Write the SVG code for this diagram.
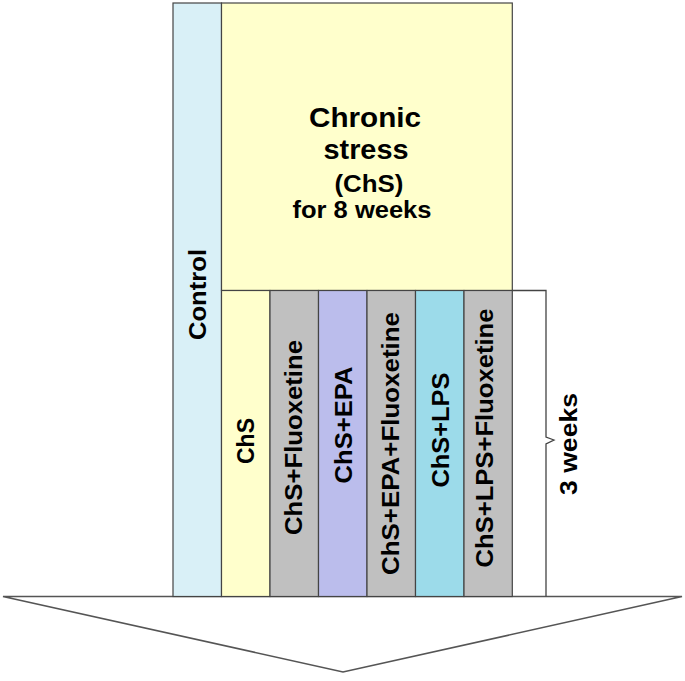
<svg xmlns="http://www.w3.org/2000/svg" width="685" height="681" viewBox="0 0 685 681">
<style>
.box{stroke:#444;stroke-width:1.2}
.t{font-family:"Liberation Sans",Arial,sans-serif;font-weight:bold;fill:#000}
.v{font-size:23px;text-anchor:middle}
.line{fill:none;stroke:#444;stroke-width:1.3}
</style>
<rect width="685" height="681" fill="#fff"/>
<g id="arrow">
<polygon points="3,596.5 682,596.5 343,672" fill="#fff" stroke="#555" stroke-width="1.6"/>
</g>
<g id="control">
<rect class="box" x="173" y="3" width="48.5" height="593.5" fill="#D9F0F7"/>
<text class="t v" transform="translate(206,294.5) rotate(-90)" textLength="91" lengthAdjust="spacingAndGlyphs">Control</text>
</g>
<g id="chronic">
<rect class="box" x="221.5" y="3" width="290.8" height="287.5" fill="#FFFFCC"/>
<text class="t" text-anchor="middle" font-size="28" x="365" y="127" textLength="112" lengthAdjust="spacingAndGlyphs">Chronic</text>
<text class="t" text-anchor="middle" font-size="28" x="366" y="158.5" textLength="85" lengthAdjust="spacingAndGlyphs">stress</text>
<text class="t" text-anchor="middle" font-size="23" x="369" y="192" textLength="69" lengthAdjust="spacingAndGlyphs">(ChS)</text>
<text class="t" text-anchor="middle" font-size="23" x="362" y="218" textLength="139" lengthAdjust="spacingAndGlyphs">for 8 weeks</text>
</g>
<g id="chs">
<rect class="box" x="221.5" y="290.5" width="48.5" height="306" fill="#FFFFCC"/>
<text class="t v" transform="translate(254,441) rotate(-90)" textLength="46" lengthAdjust="spacingAndGlyphs">ChS</text>
</g>
<g id="chs-fluoxetine">
<rect class="box" x="270" y="290.5" width="48.5" height="306" fill="#C0C0C0"/>
<text class="t v" transform="translate(302,437.5) rotate(-90)" textLength="195" lengthAdjust="spacingAndGlyphs">ChS+Fluoxetine</text>
</g>
<g id="chs-epa">
<rect class="box" x="318.5" y="290.5" width="48.5" height="306" fill="#BBBDEC"/>
<text class="t v" transform="translate(352,425) rotate(-90)" textLength="117" lengthAdjust="spacingAndGlyphs">ChS+EPA</text>
</g>
<g id="chs-epa-fluoxetine">
<rect class="box" x="367" y="290.5" width="48.5" height="306" fill="#C0C0C0"/>
<text class="t v" transform="translate(399,443.5) rotate(-90)" textLength="263" lengthAdjust="spacingAndGlyphs">ChS+EPA+Fluoxetine</text>
</g>
<g id="chs-lps">
<rect class="box" x="415.5" y="290.5" width="48.5" height="306" fill="#9CDBEA"/>
<text class="t v" transform="translate(449,430) rotate(-90)" textLength="115" lengthAdjust="spacingAndGlyphs">ChS+LPS</text>
</g>
<g id="chs-lps-fluoxetine">
<rect class="box" x="464" y="290.5" width="48.3" height="306" fill="#C0C0C0"/>
<text class="t v" transform="translate(493,438) rotate(-90)" textLength="259" lengthAdjust="spacingAndGlyphs">ChS+LPS+Fluoxetine</text>
</g>
<g id="connectors">
<path class="line" d="M512.3,290.5 H546 V437 L554,440 L546,444 V596.5"/>
</g>
<g id="weeks3">
<text class="t v" transform="translate(577,444) rotate(-90)" textLength="102" lengthAdjust="spacingAndGlyphs">3 weeks</text>
</g>
</svg>
